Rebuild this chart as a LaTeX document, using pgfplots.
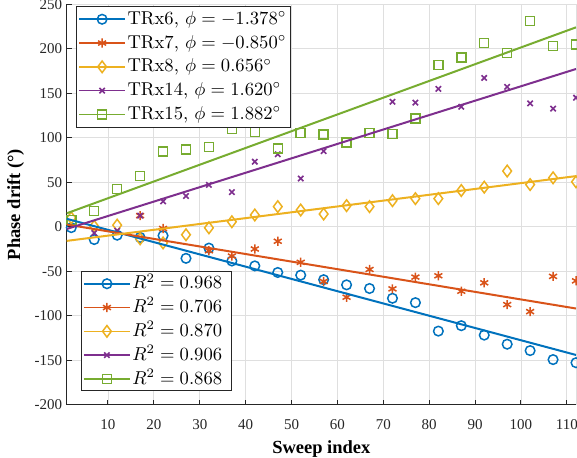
\documentclass[border=0pt]{standalone}
\usepackage{fontspec}
\usepackage{graphicx}
\usepackage{pgfplots}
\pgfplotsset{compat=1.18}
\newfontfamily\timesfont{Liberation Serif}
\definecolor{c1}{rgb}{0,0.447,0.741}
\definecolor{c2}{rgb}{0.85,0.325,0.098}
\definecolor{c3}{rgb}{0.929,0.694,0.125}
\definecolor{c4}{rgb}{0.494,0.184,0.556}
\definecolor{c5}{rgb}{0.466,0.674,0.188}
\definecolor{axcol}{rgb}{0.15,0.15,0.15}
\newcommand{\lgd}[1]{\scalebox{1.86}{#1}}
\pgfplotsset{
  mylegend/.style={
    legend cell align=left,
    legend style={font=\normalsize, draw=axcol, line width=0.9pt, fill=white,
      inner xsep=2pt, inner ysep=1pt, nodes={inner xsep=1.6pt, inner ysep=3pt, text height=14pt, text depth=3.8pt}, row sep=0pt},
    legend image code/.code={\draw[mark repeat=2,mark phase=2,#1] plot coordinates {(0pt,0pt) (23pt,0pt) (46pt,0pt)};},
  },
  s1/.style={c1, line width=1.6pt, mark=o, mark size=4.8pt, mark options={solid,line width=1.5pt}},
  s2/.style={c2, line width=1.6pt, mark=asterisk, mark size=4.6pt, mark options={solid,line width=1.5pt}},
  s3/.style={c3, line width=1.6pt, mark=diamond, mark size=5.8pt, mark options={solid,line width=1.5pt}},
  s4/.style={c4, line width=1.6pt, mark=x, mark size=3.8pt, mark options={solid,line width=1.6pt}},
  s5/.style={c5, line width=1.6pt, mark=square, mark size=4.5pt, mark options={solid,line width=1.5pt}},
}
\begin{document}
\begin{tikzpicture}
\begin{axis}[
  name=main,
  scale only axis, width=509.3pt, height=400.4pt,
  xmin=1, xmax=112, ymin=-200, ymax=250,
  xtick={10,20,...,110}, ytick={-200,-150,...,250},
  extra x ticks={112}, extra x tick labels={}, extra x tick style={grid=major, major tick length=0pt},
  axis x line*=bottom, axis y line*=left,
  axis line style={axcol, line width=1.1pt},
  tick style={axcol, line width=1pt},
  tick align=inside, major tick length=5pt,
  grid=major, major grid style={gray!25, line width=0.8pt},
  /pgf/number format/assume math mode=true,
  ticklabel style={font=\timesfont\fontsize{15}{15}\selectfont, text=axcol},
  xticklabel style={yshift=-11pt},
  yticklabel style={xshift=-1pt},
  xlabel={\timesfont\bfseries\fontsize{18.5}{20}\selectfont Sweep index},
  ylabel={\timesfont\bfseries\fontsize{18.5}{20}\selectfont Phase drift (°)},
  xlabel style={at={(rel axis cs:0.5,0)}, anchor=center, yshift=-44.5pt},
  ylabel style={at={(rel axis cs:0,0.5)}, anchor=center, yshift=51.2pt},
  clip mode=individual,
  mylegend,
  legend style={at={(0.018,0.996)}, anchor=north west},
]
\addlegendimage{s1}\addlegendentry{\lgd{TRx6, $\phi=-1.378^\circ$}}
\addlegendimage{s2}\addlegendentry{\lgd{TRx7, $\phi=-0.850^\circ$}}
\addlegendimage{s3}\addlegendentry{\lgd{TRx8, $\phi=0.656^\circ$}}
\addlegendimage{s4}\addlegendentry{\lgd{TRx14, $\phi=1.620^\circ$}}
\addlegendimage{s5}\addlegendentry{\lgd{TRx15, $\phi=1.882^\circ$}}
% data points
\addplot[s1, only marks, forget plot] coordinates {(2,-1) (7,-14.4) (12,-9.5) (17,-12) (22,-10) (27,-35.5) (32,-24) (37,-38.5) (42,-44) (47,-51.4) (52,-54.4) (57,-59.5) (62,-65.3) (67,-69.4) (72,-80.4) (77,-85.3) (82,-117.3) (87,-111.2) (92,-121.8) (97,-132) (102,-139.2) (107,-149.3) (112,-152.8)};
\addplot[s2, only marks, forget plot] coordinates {(17,12.5) (22,-2) (32,-27) (37,-33) (42,-25) (47,-16.3) (52,-40) (57,-61.5) (62,-79.2) (67,-48) (72,-69.8) (77,-56.6) (82,-55.1) (87,-72.5) (92,-63) (97,-87.5) (102,-95.4) (107,-55.8) (112,-60.8)};
\addplot[s3, only marks, forget plot] coordinates {(2,10) (7,0.5) (12,1.8) (17,-13.6) (22,-18.2) (27,-9) (32,-1.2) (37,5.6) (42,13.2) (47,22.6) (52,18.8) (57,14.3) (62,23.7) (67,22.6) (72,29.3) (77,31.6) (82,31.6) (87,40.7) (92,44.5) (97,62.6) (102,47.4) (107,55) (112,50.5)};
\addplot[s4, only marks, forget plot] coordinates {(7,-7) (12,-4.5) (17,12.5) (22,28.5) (27,34.5) (32,47) (37,38.8) (42,73.1) (47,81.4) (52,54.2) (57,85) (72,140.4) (77,139.5) (82,154.9) (87,134.9) (92,167.3) (97,157.2) (102,138.7) (107,132.7) (112,145.1)};
\addplot[s5, only marks, forget plot] coordinates {(2,7.5) (7,17.5) (12,42.6) (17,56.9) (22,84.4) (27,87) (32,89.7) (37,109.7) (42,106.6) (47,88.2) (52,105.5) (57,103.5) (62,94.9) (67,105.5) (72,104) (77,121.7) (82,181.7) (87,190.3) (92,206.5) (97,195.3) (102,231.5) (107,203.2) (112,204.7)};
% fit lines
\addplot[c1, line width=2pt, forget plot] coordinates {(1,8.9) (112,-144.1)};
\addplot[c2, line width=2pt, forget plot] coordinates {(1,2.5) (112,-91.9)};
\addplot[c3, line width=2pt, forget plot] coordinates {(1,-15.9) (112,56.9)};
\addplot[c4, line width=2pt, forget plot] coordinates {(1,-2.5) (112,177.3)};
\addplot[c5, line width=2pt, forget plot] coordinates {(1,15.1) (112,224.1)};
\end{axis}
\begin{axis}[
  at={(main.south west)}, anchor=south west,
  scale only axis, width=509.3pt, height=400.4pt,
  xmin=1, xmax=112, ymin=-200, ymax=250,
  hide axis,
  mylegend,
  legend style={at={(0.0275,0.0335)}, anchor=south west, inner ysep=0pt},
]
\addlegendimage{s1}\addlegendentry{\lgd{$R^2=0.968$}\kern6pt}
\addlegendimage{s2}\addlegendentry{\lgd{$R^2=0.706$}\kern6pt}
\addlegendimage{s3}\addlegendentry{\lgd{$R^2=0.870$}\kern6pt}
\addlegendimage{s4}\addlegendentry{\lgd{$R^2=0.906$}\kern6pt}
\addlegendimage{s5}\addlegendentry{\lgd{$R^2=0.868$}\kern6pt}
\end{axis}
\pgfresetboundingbox
\path ([shift={(-66.7pt,-52.3pt)}]main.south west) rectangle ([shift={(1pt,4.3pt)}]main.north east);
\end{tikzpicture}
\end{document}
